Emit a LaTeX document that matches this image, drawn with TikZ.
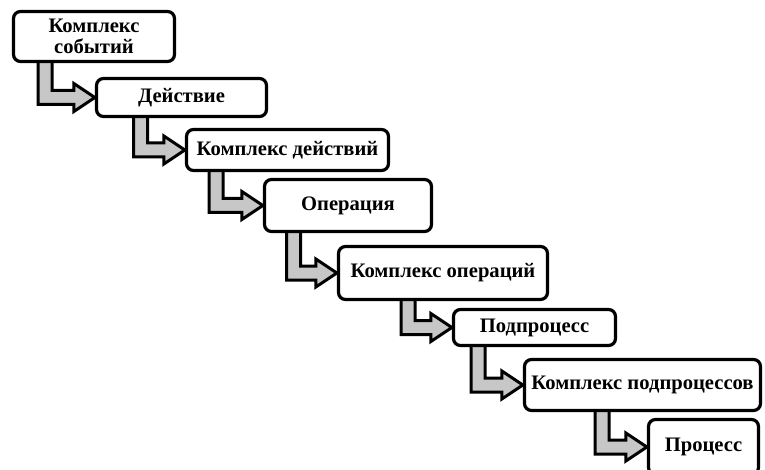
\documentclass[tikz,border=0pt]{standalone}
\usepackage{fontspec}
\setmainfont{Liberation Serif}
\usetikzlibrary{calc}
\pgfdeclarelayer{background}
\pgfsetlayers{background,main}
\tikzset{
  box/.style={draw=black, line width=3.2pt, rounded corners=7pt, fill=white,
    inner sep=0pt, align=center, font=\fontsize{20.6}{21.5}\selectfont\bfseries},
  stair/.style={draw=black, fill=black!22, line width=3pt, line join=miter}
}
\newcommand\stairarrow[3]{%
  \path[stair] let \p1=(#1.south), \p2=(#2.west) in
    (#3pt-7pt,\y1) -- (#3pt-7pt,\y2-7pt) -- (\x2-21pt,\y2-7pt) -- (\x2-21pt,\y2-14pt)
    -- (\x2,\y2) -- (\x2-21pt,\y2+14pt) -- (\x2-21pt,\y2+7pt) -- (#3pt+7pt,\y2+7pt)
    -- (#3pt+7pt,\y1);}
\begin{document}
\begin{tikzpicture}[x=1pt,y=-1pt]
\useasboundingbox (0,0) rectangle (765,470);
\clip (0,0) rectangle (765,470);
\node[box, minimum width=161pt, minimum height=50pt] (b1) at (94,36.5) {Комплекс\\событий};
\node[box, minimum width=170pt, minimum height=38pt] (b2) at (181.5,97.5) {Действие};
\node[box, minimum width=202pt, minimum height=41pt] (b3) at (287.5,150) {Комплекс действий};
\node[box, minimum width=167pt, minimum height=52pt] (b4) at (348,205.5) {Операция};
\node[box, minimum width=209pt, minimum height=53pt] (b5) at (443,273) {Комплекс операций};
\node[box, minimum width=162pt, minimum height=36pt] (b6) at (534.5,327.5) {Подпроцесс};
\node[box, minimum width=236pt, minimum height=51pt] (b7) at (642.5,385) {Комплекс подпроцессов};
\node[box, minimum width=110pt, minimum height=55pt] (b8) at (703.5,447) {Процесс};
\begin{pgfonlayer}{background}
\stairarrow{b1}{b2}{45}
\stairarrow{b2}{b3}{140.5}
\stairarrow{b3}{b4}{216}
\stairarrow{b4}{b5}{293.5}
\stairarrow{b5}{b6}{408}
\stairarrow{b6}{b7}{478}
\stairarrow{b7}{b8}{602}
\end{pgfonlayer}
\end{tikzpicture}
\end{document}
